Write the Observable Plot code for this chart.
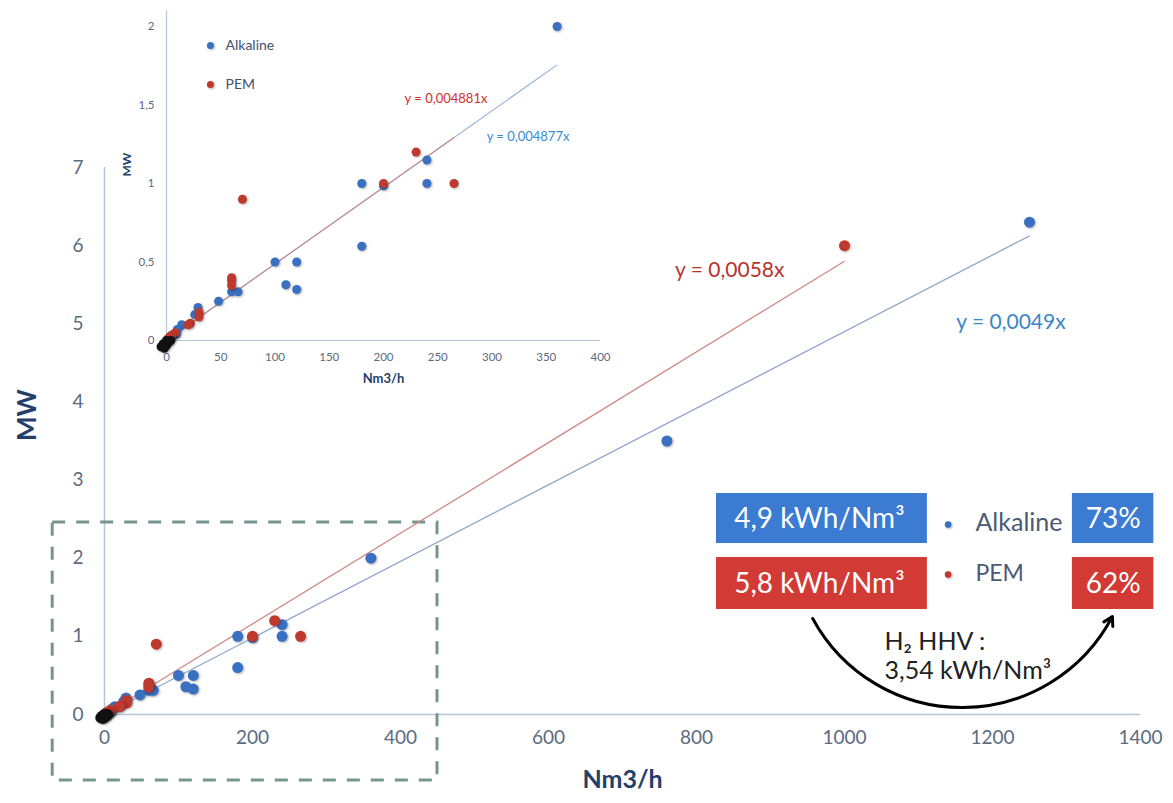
<!DOCTYPE html>
<html>
<head>
<meta charset="utf-8">
<script src="https://cdn.jsdelivr.net/npm/d3@7"></script>
<script src="https://cdn.jsdelivr.net/npm/@observablehq/plot@0.6"></script>
<style>
  html, body { margin: 0; padding: 0; background: #ffffff; }
  #wrap { position: relative; width: 1173px; height: 803px; overflow: hidden; font-family: Lato, "Open Sans", sans-serif; }
  #wrap svg { position: absolute; left: 0; top: 0; }
  #wrap g[aria-label="dot"] circle { filter: drop-shadow(1px 1.5px 1px rgba(0,0,0,0.30)); }
</style>
</head>
<body>
<div id="wrap"></div>
<script>
// ---------- data ----------
const alkalineX = [1250, 760, 360, 240, 240, 180, 200, 180, 100, 120, 110, 120, 60, 66, 48, 29, 26, 14, 10, 9, 5, 3, 1];
const alkalineY = [6.3, 3.5, 2.0, 1.15, 1.0, 1.0, 0.985, 0.6, 0.5, 0.5, 0.355, 0.325, 0.31, 0.31, 0.25, 0.21, 0.165, 0.1, 0.07, 0.04, 0.03, 0.015, 0.005];
const pemX = [1000, 230, 200, 265, 70, 60, 60, 60, 30, 30, 22, 20, 8, 5, 3, 1];
const pemY = [6.0, 1.2, 1.0, 1.0, 0.9, 0.4, 0.38, 0.35, 0.18, 0.15, 0.11, 0.1, 0.05, 0.035, 0.025, 0.01];
const otherX = [-5, -3, 0, 2, 4, 0, -2];
const otherY = [-0.04, -0.02, -0.03, -0.01, 0, 0, -0.05];

// trend lines (slope, last x)
const mainSlopes = {Alkaline: 0.0049, PEM: 0.0058};
const mainTrendEnd = {Alkaline: 1250, PEM: 1000};
const insetSlopes = {Alkaline: 0.004877, PEM: 0.004881};
const insetTrendEnd = {Alkaline: 360, PEM: 265};

const mainXTicks = [0, 200, 400, 600, 800, 1000, 1200, 1400];
const mainYTicks = [0, 1, 2, 3, 4, 5, 6, 7];
const insetXTicks = [0, 50, 100, 150, 200, 250, 300, 350, 400];
const insetYTicks = [0, 0.5, 1, 1.5, 2];

const seriesNames = ["Alkaline", "PEM"];
const energyLabels = ["4,9 kWh/Nm³", "5,8 kWh/Nm³"];
const efficiencyLabels = ["73%", "62%"];
const hhvLabels = ["H₂ HHV :", "3,54 kWh/Nm³"];

// ---------- styles ----------
const BLUE = "#3a70c1", RED = "#c0392f", BLACK = "#111111";
const BOX_BLUE = "#3b7bd1", BOX_RED = "#d23a35";
const AXIS = "#b4c6dc", TICK = "#5b6b82", NAVY = "#233f6a";
const fmtComma = d => String(d).replace(".", ",");

const alk = alkalineX.map((x, i) => ({x, y: alkalineY[i]}));
const pem = pemX.map((x, i) => ({x, y: pemY[i]}));
const oth = otherX.map((x, i) => ({x, y: otherY[i]}));

const trend = (slopes, ends) => seriesNames.map(s => ({s, x1: 0, y1: 0, x2: ends[s], y2: slopes[s] * ends[s]}));

// ---------- main chart ----------
const mainTrend = trend(mainSlopes, mainTrendEnd);
const main = Plot.plot({
  width: 1173, height: 803,
  marginLeft: 104, marginRight: 33, marginTop: 167, marginBottom: 89,
  x: {domain: [0, 1400]},
  y: {domain: [0, 7]},
  style: {fontFamily: "Lato, 'Open Sans', sans-serif", background: "transparent", overflow: "visible"},
  marks: [
    Plot.ruleY([0], {stroke: AXIS, strokeWidth: 1.5}),
    Plot.ruleX([0], {stroke: AXIS, strokeWidth: 1.5}),
    Plot.axisX({ticks: mainXTicks, tickFormat: fmtComma, tickSize: 0, tickPadding: 16, fontSize: 19, fill: TICK, label: null}),
    Plot.axisY({ticks: mainYTicks, tickFormat: fmtComma, tickSize: 0, tickPadding: 21, fontSize: 19, fill: TICK, label: null}),
    Plot.text(["MW"], {frameAnchor: "left", dx: -77, rotate: -90, fontSize: 26, fontWeight: "bold", fill: NAVY}),
    Plot.text(["Nm3/h"], {frameAnchor: "bottom", dy: 73, fontSize: 25, fontWeight: "bold", fill: NAVY}),
    // zoom box
    Plot.rect([{x1: -70, x2: 450, y1: -0.845, y2: 2.457}], {x1: "x1", x2: "x2", y1: "y1", y2: "y2", fill: "none", stroke: "#77958f", strokeWidth: 3, strokeDasharray: "13,11"}),
    // trend lines
    Plot.link(mainTrend, {x1: "x1", y1: "y1", x2: "x2", y2: "y2", stroke: d => d.s === "PEM" ? "#d08a84" : "#8ea6cc", strokeWidth: 1.3}),
    Plot.text([{x: 845, y: 5.68, t: "y = 0,0058x"}], {x: "x", y: "y", text: "t", fill: "#b8332d", fontSize: 21}),
    Plot.text([{x: 1225, y: 5.02, t: "y = 0,0049x"}], {x: "x", y: "y", text: "t", fill: "#3a86c6", fontSize: 21}),
    // points
    Plot.dot(alk, {x: "x", y: "y", r: 5.5, fill: BLUE}),
    Plot.dot(pem, {x: "x", y: "y", r: 5.5, fill: RED}),
    Plot.dot(oth, {x: "x", y: "y", r: 5.5, fill: BLACK}),
    // legend boxes
    Plot.rect([
      {x1: 827, x2: 1112, y1: 2.188, y2: 2.828, c: BOX_BLUE},
      {x1: 827, x2: 1112, y1: 1.344, y2: 2.009, c: BOX_RED},
      {x1: 1308, x2: 1418, y1: 2.188, y2: 2.828, c: BOX_BLUE},
      {x1: 1308, x2: 1418, y1: 1.344, y2: 2.009, c: BOX_RED}
    ], {x1: "x1", x2: "x2", y1: "y1", y2: "y2", fill: "c"}),
    Plot.text([
      {x: 966, y: 2.50, t: energyLabels[0]},
      {x: 966, y: 1.67, t: energyLabels[1]},
      {x: 1363, y: 2.50, t: efficiencyLabels[0]},
      {x: 1363, y: 1.67, t: efficiencyLabels[1]}
    ], {x: "x", y: "y", text: "t", fill: "white", fontSize: 28}),
    Plot.dot([{x: 1140, y: 2.43, c: BLUE}, {x: 1140, y: 1.79, c: RED}], {x: "x", y: "y", r: 3.3, fill: "c", stroke: "none"}),
    Plot.text([{x: 1177, y: 2.45, t: seriesNames[0], f: 25}, {x: 1177, y: 1.80, t: seriesNames[1], f: 23}], {x: "x", y: "y", text: "t", fontSize: d => d.f, textAnchor: "start", fill: "#4a5a76"}),
    // HHV arrow
    Plot.arrow([{x1: 957, y1: 1.229, x2: 1362, y2: 1.254}], {x1: "x1", y1: "y1", x2: "x2", y2: "y2", bend: -62, stroke: "black", strokeWidth: 3, headLength: 5}),
    Plot.text([{x: 1054, y: 0.93, t: hhvLabels[0]}, {x: 1054, y: 0.557, t: hhvLabels[1]}], {x: "x", y: "y", text: "t", textAnchor: "start", fontSize: 25, fill: "#222222"})
  ]
});

// ---------- inset chart ----------
const insetTrend = trend(insetSlopes, insetTrendEnd);
const inset = Plot.plot({
  width: 620, height: 410,
  marginLeft: 166, marginRight: 20, marginTop: 26, marginBottom: 70,
  x: {domain: [0, 400]},
  y: {domain: [0, 2]},
  style: {fontFamily: "Lato, 'Open Sans', sans-serif", background: "transparent", overflow: "visible"},
  marks: [
    Plot.ruleY([0], {stroke: AXIS, strokeWidth: 1.2}),
    Plot.ruleX([0], {y1: 0, y2: 2.1, stroke: AXIS, strokeWidth: 1.2}),
    Plot.axisX({ticks: insetXTicks, tickFormat: fmtComma, tickSize: 0, tickPadding: 12, fontSize: 11.5, fill: TICK, label: null}),
    Plot.axisY({ticks: insetYTicks, tickSize: 0, tickPadding: 12, fontSize: 11.5, fill: TICK, label: null, tickFormat: fmtComma}),
    Plot.text(["MW"], {frameAnchor: "left", dx: -39, dy: -7, rotate: -90, fontSize: 12, fontWeight: "bold", fill: NAVY}),
    Plot.text(["Nm3/h"], {frameAnchor: "bottom", dy: 42, fontSize: 13, fontWeight: "bold", fill: NAVY}),
    Plot.link(insetTrend, {x1: "x1", y1: "y1", x2: "x2", y2: "y2", stroke: d => d.s === "PEM" ? "#c98c88" : "#8fb0d8", strokeWidth: 1.1}),
    Plot.text([{x: 257.6, y: 1.541, t: "y = 0,004881x"}], {x: "x", y: "y", text: "t", fill: "#cf2f2a", fontSize: 13}),
    Plot.text([{x: 333.2, y: 1.299, t: "y = 0,004877x"}], {x: "x", y: "y", text: "t", fill: "#3a8ad0", fontSize: 13}),
    Plot.dot(alk.filter(d => d.x <= 400), {x: "x", y: "y", r: 4.5, fill: BLUE}),
    Plot.dot(pem.filter(d => d.x <= 400), {x: "x", y: "y", r: 4.5, fill: RED}),
    Plot.dot(oth, {x: "x", y: "y", r: 4.5, fill: BLACK}),
    Plot.dot([{x: 40.5, y: 1.879, c: BLUE}, {x: 40.5, y: 1.63, c: RED}], {x: "x", y: "y", r: 3.5, fill: "c"}),
    Plot.text([{x: 54.4, y: 1.879, t: seriesNames[0]}, {x: 54.4, y: 1.63, t: seriesNames[1]}], {x: "x", y: "y", text: "t", textAnchor: "start", fontSize: 14, fill: "#3d5170"})
  ]
});

const wrap = document.getElementById("wrap");
wrap.appendChild(main);
wrap.appendChild(inset);
</script>
</body>
</html>
